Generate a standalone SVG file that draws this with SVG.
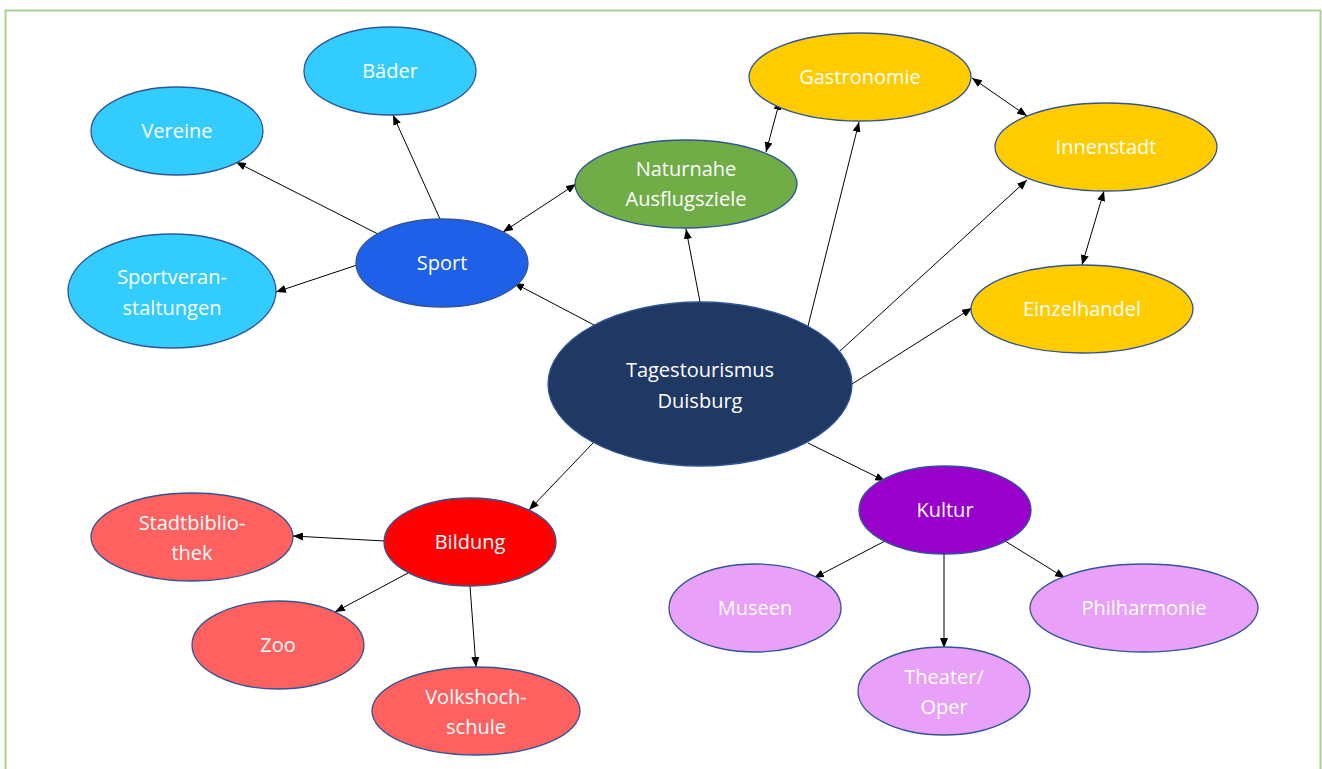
<svg xmlns="http://www.w3.org/2000/svg" width="1322" height="769" viewBox="0 0 1322 769">
<defs>
<marker id="ah" viewBox="0 0 10 8" refX="10" refY="4" markerWidth="10" markerHeight="8" markerUnits="userSpaceOnUse" orient="auto-start-reverse"><path d="M0,0 L10,4 L0,8 z" fill="#000"/></marker>
<style>
.n ellipse{stroke:#2F5597;stroke-width:1.3}
.n text{font-family:"Open Sans","Liberation Sans",sans-serif;font-size:20px;fill:#fff;text-anchor:middle}
.c line{stroke:#000;stroke-width:1;marker-end:url(#ah)}
.c line.b{marker-start:url(#ah)}
.lb{fill:#33CCFF}.sp{fill:#1F60E8}.gr{fill:#70AD47}.ye{fill:#FFCC00}.nv{fill:#203864}.ku{fill:#9900CC}.li{fill:#E9A0F9}.rd{fill:#FF0000}.sa{fill:#FF6060}
</style>
</defs>
<rect x="5.5" y="10.5" width="1315" height="790" fill="#fff" stroke="#A9D18E" stroke-width="2"/>
<g class="c" id="connectors">
<line x1="440" y1="219" x2="393" y2="115"/>
<line x1="378" y1="234" x2="236" y2="162"/>
<line x1="357" y1="265" x2="276" y2="292"/>
<line class="b" x1="503" y1="232" x2="576" y2="184"/>
<line x1="596" y1="326" x2="514" y2="283"/>
<line x1="700" y1="302" x2="686" y2="229"/>
<line x1="808" y1="326" x2="859" y2="122"/>
<line x1="840" y1="351" x2="1027" y2="180"/>
<line x1="852" y1="384" x2="972" y2="308"/>
<line class="b" x1="780" y1="100" x2="766" y2="152"/>
<line class="b" x1="972" y1="78" x2="1027" y2="116"/>
<line class="b" x1="1104" y1="191" x2="1082" y2="265"/>
<line x1="808" y1="443" x2="885" y2="481"/>
<line x1="593" y1="443" x2="529" y2="510"/>
<line x1="885" y1="541" x2="814" y2="578"/>
<line x1="944" y1="554" x2="944" y2="648"/>
<line x1="1005" y1="541" x2="1065" y2="578"/>
<line x1="385" y1="541" x2="293" y2="536"/>
<line x1="408" y1="573" x2="335" y2="612"/>
<line x1="470" y1="586" x2="476" y2="667"/>
</g>
<g class="n" id="baeder"><ellipse class="lb" cx="390" cy="71" rx="86" ry="44"/><text x="390" y="78">Bäder</text></g>
<g class="n" id="vereine"><ellipse class="lb" cx="177" cy="131" rx="86" ry="44"/><text x="177" y="138">Vereine</text></g>
<g class="n" id="sport"><ellipse class="sp" cx="442" cy="263" rx="86" ry="44"/><text x="442" y="270">Sport</text></g>
<g class="n" id="sportveranstaltungen"><ellipse class="lb" cx="172" cy="291" rx="104" ry="57"/><text x="172" y="284">Sportveran-</text><text x="172" y="315">staltungen</text></g>
<g class="n" id="naturnahe"><ellipse class="gr" cx="686" cy="184" rx="111" ry="44"/><text x="686" y="176">Naturnahe</text><text x="686" y="206">Ausflugsziele</text></g>
<g class="n" id="gastronomie"><ellipse class="ye" cx="860" cy="77" rx="111" ry="44"/><text x="860" y="84">Gastronomie</text></g>
<g class="n" id="innenstadt"><ellipse class="ye" cx="1106" cy="147" rx="111" ry="44"/><text x="1106" y="154">Innenstadt</text></g>
<g class="n" id="einzelhandel"><ellipse class="ye" cx="1082" cy="309" rx="111" ry="44"/><text x="1082" y="316">Einzelhandel</text></g>
<g class="n" id="tagestourismus"><ellipse class="nv" cx="700" cy="384" rx="152" ry="82"/><text x="700" y="377">Tagestourismus</text><text x="700" y="408">Duisburg</text></g>
<g class="n" id="kultur"><ellipse class="ku" cx="945" cy="510" rx="86" ry="44"/><text x="945" y="517">Kultur</text></g>
<g class="n" id="museen"><ellipse class="li" cx="755" cy="608" rx="86" ry="44"/><text x="755" y="615">Museen</text></g>
<g class="n" id="philharmonie"><ellipse class="li" cx="1144" cy="608" rx="114" ry="44"/><text x="1144" y="615">Philharmonie</text></g>
<g class="n" id="theater"><ellipse class="li" cx="944" cy="691" rx="86" ry="44"/><text x="944" y="684">Theater/</text><text x="944" y="714">Oper</text></g>
<g class="n" id="bildung"><ellipse class="rd" cx="470" cy="542" rx="86" ry="44"/><text x="470" y="549">Bildung</text></g>
<g class="n" id="stadtbibliothek"><ellipse class="sa" cx="192" cy="537" rx="101" ry="44"/><text x="192" y="530">Stadtbiblio-</text><text x="192" y="560">thek</text></g>
<g class="n" id="zoo"><ellipse class="sa" cx="278" cy="645" rx="86" ry="44"/><text x="278" y="652">Zoo</text></g>
<g class="n" id="volkshochschule"><ellipse class="sa" cx="476" cy="711" rx="104" ry="44"/><text x="476" y="704">Volkshoch-</text><text x="476" y="734">schule</text></g>
</svg>
